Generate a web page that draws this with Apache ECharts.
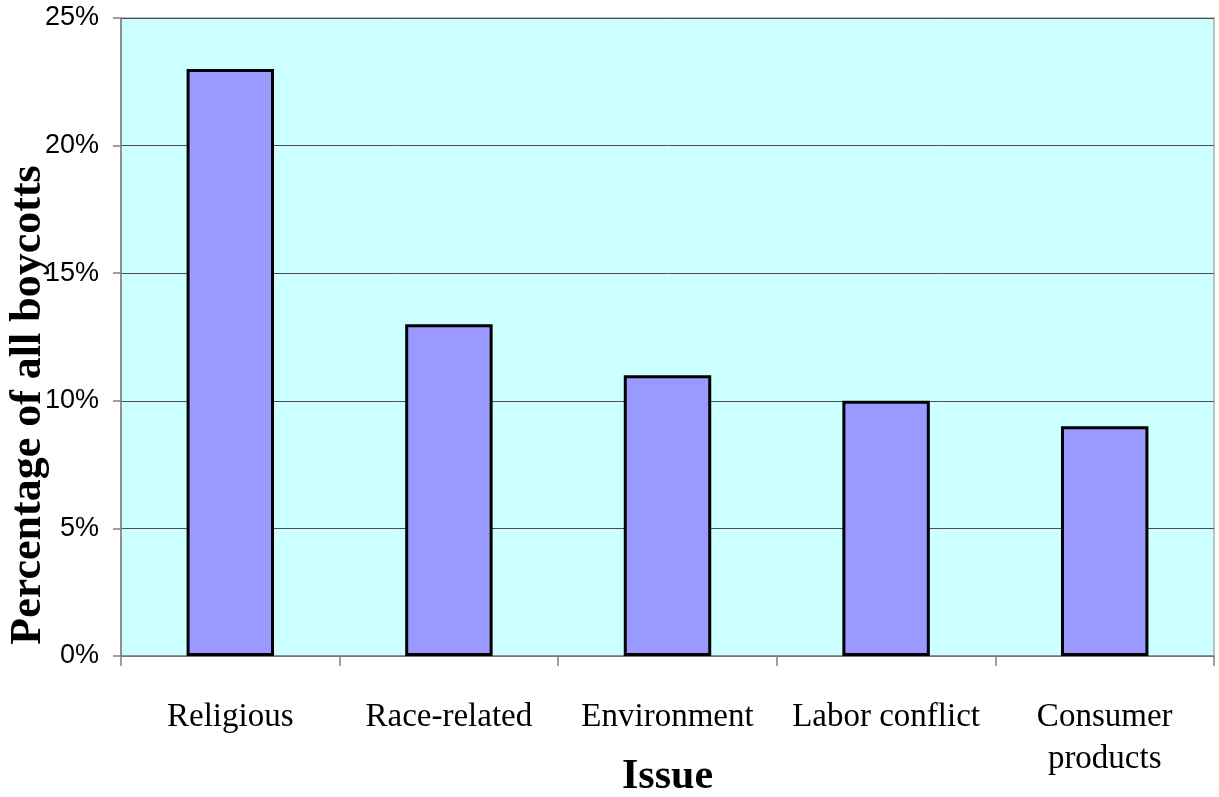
<!DOCTYPE html>
<html>
<head>
<meta charset="utf-8">
<script src="https://cdn.jsdelivr.net/npm/echarts@6/dist/echarts.min.js"></script>
<style>
  html, body { margin: 0; padding: 0; background: #ffffff; }
  #chart { width: 1219px; height: 797px; }
</style>
</head>
<body>
<div id="chart"></div>
<script>
// Share of all boycotts by issue
const categories = ['Religious', 'Race-related', 'Environment', 'Labor conflict', 'Consumer\nproducts'];
const shares = [23, 13, 11, 10, 9];
const yTicks = { min: 0, max: 25, interval: 5 };

const chart = echarts.init(document.getElementById('chart'));
chart.setOption({
  animation: false,
  grid: {
    left: 121, right: 5, top: 18, bottom: 141,
    outerBoundsMode: 'none',
    containLabel: false,
    show: true,
    backgroundColor: '#CCFFFF',
    borderColor: '#C0C0C0',
    borderWidth: 2
  },
  xAxis: {
    type: 'category',
    data: categories,
    name: 'Issue',
    nameLocation: 'middle',
    nameGap: 100,
    nameMoveOverlap: false,
    nameTextStyle: { fontFamily: 'Liberation Serif', fontWeight: 'bold', fontSize: 42, color: '#000' },
    axisLine: { lineStyle: { color: '#808080', width: 1.5 } },
    axisTick: { show: true, length: 10, lineStyle: { color: '#808080', width: 1.5 } },
    axisLabel: {
      fontFamily: 'Liberation Serif', fontSize: 33, color: '#000',
      margin: 40, lineHeight: 42, interval: 0
    }
  },
  yAxis: {
    type: 'value',
    min: yTicks.min, max: yTicks.max, interval: yTicks.interval,
    name: 'Percentage of all boycotts',
    nameLocation: 'middle',
    nameGap: 70,
    nameMoveOverlap: false,
    nameTextStyle: {
      fontFamily: 'Liberation Serif', fontWeight: 'bold', fontSize: 44, color: '#000',
      padding: [0, 136, 0, 0]
    },
    axisLine: { show: true, lineStyle: { color: '#808080', width: 1.5 } },
    axisTick: { show: true, length: 8, lineStyle: { color: '#808080', width: 1.5 } },
    axisLabel: {
      formatter: '{value}%',
      fontFamily: 'Liberation Sans', fontSize: 27, color: '#000', margin: 22
    },
    splitLine: { lineStyle: { color: '#4d4d4d', width: 1 } }
  },
  series: [{
    type: 'bar',
    data: shares,
    barWidth: '40%',
    itemStyle: { color: '#9999FF', borderColor: '#000', borderWidth: 3 }
  }]
});
</script>
</body>
</html>
